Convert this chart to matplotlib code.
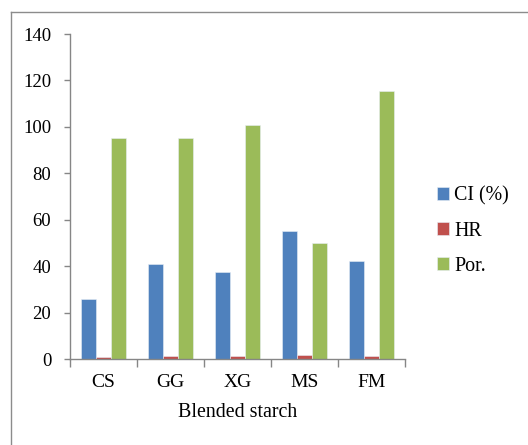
import matplotlib
matplotlib.use("Agg")
import matplotlib.pyplot as plt
import numpy as np
from matplotlib.lines import Line2D

categories = ["CS", "GG", "XG", "MS", "FM"]
ci_values = [25.8, 41.0, 37.6, 55.3, 42.2]
hr_values = [1.15, 1.4, 1.4, 2.0, 1.35]
por_values = [95.1, 95.1, 100.7, 49.9, 115.5]
series_names = ["CI (%)", "HR", "Por."]
series_colors = ["#4F81BD", "#C0504D", "#9BBB59"]
y_ticks = [0, 20, 40, 60, 80, 100, 120, 140]

plt.rcParams["font.family"] = ["Liberation Serif", "DejaVu Serif"]

fig = plt.figure(figsize=(5.28, 4.45), dpi=100)
ax = fig.add_axes([70 / 528, 1 - 359.3 / 445, 335 / 528, 325.3 / 445])

bar_w = 1 / 4.5
x = np.arange(len(categories)) + 0.5
for k, (vals, name, col) in enumerate(zip([ci_values, hr_values, por_values], series_names, series_colors)):
    ax.bar(x + (k - 1) * bar_w, vals, width=bar_w, color=col, label=name,
           edgecolor="#e8eef6", linewidth=0.4, zorder=2)

ax.set_xlim(0, len(categories))
ax.set_ylim(0, 140)
ax.set_yticks(y_ticks)
ax.set_yticklabels([str(t) for t in y_ticks])
ax.set_xticks(np.arange(len(categories) + 1))
ax.set_xticklabels([])
ax.set_xticks(x, minor=True)
ax.set_xticklabels(categories, minor=True)
ax.tick_params(axis="x", which="minor", length=0, pad=10.5, labelsize=14)
ax.tick_params(axis="x", which="major", length=6, width=1, color="#868686", direction="out")
ax.tick_params(axis="y", length=4.5, width=1, color="#868686", direction="out", pad=9, labelsize=13.5)

for s in ["top", "right"]:
    ax.spines[s].set_visible(False)
for s in ["left", "bottom"]:
    ax.spines[s].set_color("#868686")
    ax.spines[s].set_linewidth(1)

ax.set_xlabel("Blended starch", fontsize=14.4, labelpad=9)

ax.legend(loc="center left", bbox_to_anchor=(1.097, 0.394), frameon=False, fontsize=14.4,
          handlelength=0.6, handleheight=0.6, handletextpad=0.25, labelspacing=0.8,
          borderpad=0, borderaxespad=0)

# outer chart frame (open to the right and bottom)
fl, ft = 11 / 528, 1 - 11.7 / 445
fig.add_artist(Line2D([fl, fl], [0, ft], transform=fig.transFigure, color="#8c8c8c", lw=1))
fig.add_artist(Line2D([fl, 1], [ft, ft], transform=fig.transFigure, color="#8c8c8c", lw=1))

fig.savefig("out.png", dpi=100)
